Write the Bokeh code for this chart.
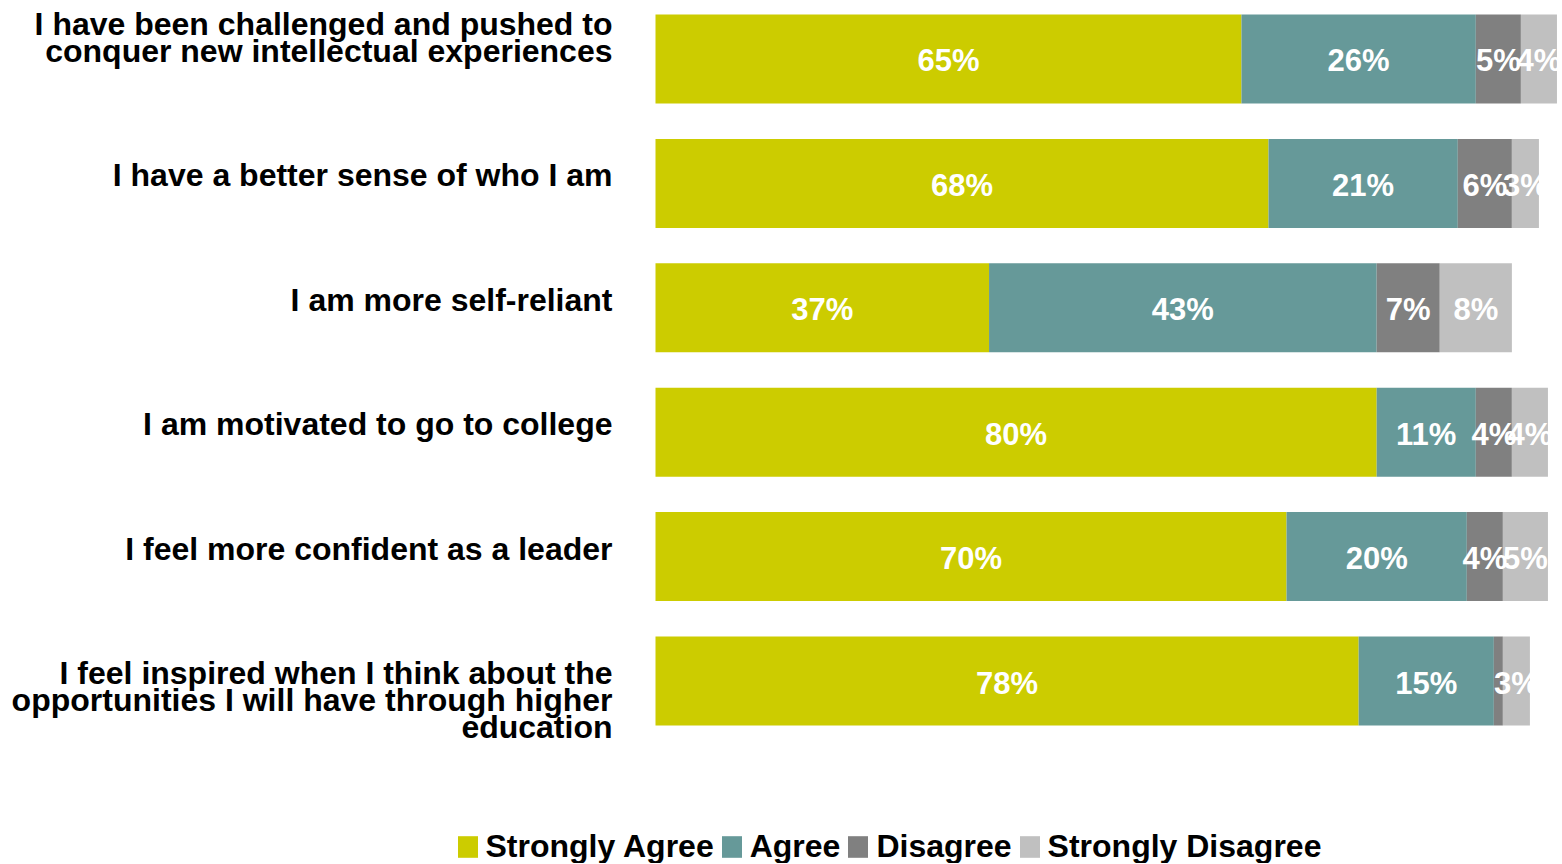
from bokeh.plotting import figure
from bokeh.models import Range1d, Legend, LegendItem, ColumnDataSource
from bokeh.embed import file_html
from bokeh.resources import INLINE
from bokeh.core.properties import value

statements = [
    "I have been challenged and pushed to\nconquer new intellectual experiences",
    "I have a better sense of who I am",
    "I am more self-reliant",
    "I am motivated to go to college",
    "I feel more confident as a leader",
    "I feel inspired when I think about the\nopportunities I will have through higher\neducation",
]
strongly_agree = [65, 68, 37, 80, 70, 78]
agree = [26, 21, 43, 11, 20, 15]
disagree = [5, 6, 7, 4, 4, 1]
strongly_disagree = [4, 3, 8, 4, 5, 3]
series_names = ["Strongly Agree", "Agree", "Disagree", "Strongly Disagree"]
colors = ["#CCCC00", "#669999", "#808080", "#C0C0C0"]

FONT = "Liberation Sans"
series = [strongly_agree, agree, disagree, strongly_disagree]
rows = list(range(len(statements)))

p = figure(width=1557, height=863, x_range=Range1d(-72.66, 100.06),
           y_range=Range1d(6.467, -0.4702),
           min_border_left=0, min_border_right=0, min_border_top=0, min_border_bottom=0,
           toolbar_location=None, output_backend="svg")
p.axis.visible = False
p.grid.visible = False
p.outline_line_color = None

left = [0] * len(rows)
renderers = []
lx, ly, lt = [], [], []
for vals, col, name in zip(series, colors, series_names):
    right = [a + b for a, b in zip(left, vals)]
    src = ColumnDataSource(dict(y=rows, left=left, right=right))
    r = p.hbar(y="y", left="left", right="right", height=0.7154, source=src,
               fill_color=col, line_color=None)
    renderers.append((name, r))
    for i, v in enumerate(vals):
        if v >= 2:
            lx.append(left[i] + v / 2)
            ly.append(i)
            lt.append(f"{v}%")
    left = right

p.text(x=lx, y=ly, text=lt, text_align="center", text_baseline="middle",
       text_color="white", text_font=value(FONT), text_font_style="bold",
       text_font_size="31px", y_offset=2)

# category labels, right-aligned left of the bars
line_px = 27
cx, cy, ct, coff = [], [], [], []
for i, s in enumerate(statements):
    n = s.count("\n") + 1
    shift = -8
    if i == 0:
        shift -= (n - 1) * line_px / 2
    elif i == len(statements) - 1:
        shift += (n - 1) * line_px / 2
    cx.append(0)
    cy.append(i)
    ct.append(s)
    coff.append(shift)
csrc = ColumnDataSource(dict(x=cx, y=cy, text=ct, off=coff))
p.text(x="x", y="y", text="text", y_offset="off", x_offset=-43, source=csrc,
       text_align="right", text_baseline="middle", text_color="black",
       text_font=value(FONT), text_font_style="bold", text_font_size="32px",
       text_line_height=0.74)

legend = Legend(items=[LegendItem(label=n, renderers=[r]) for n, r in renderers],
                orientation="horizontal", location=(454.5, -2),
                label_text_font=FONT, label_text_font_size="32px",
                label_text_font_style="bold", label_text_color="black",
                glyph_width=25, glyph_height=27, label_standoff=6, spacing=5,
                padding=0, margin=0, border_line_color=None,
                background_fill_alpha=0)
p.add_layout(legend)

open("out.html", "w").write(file_html(p, INLINE))
